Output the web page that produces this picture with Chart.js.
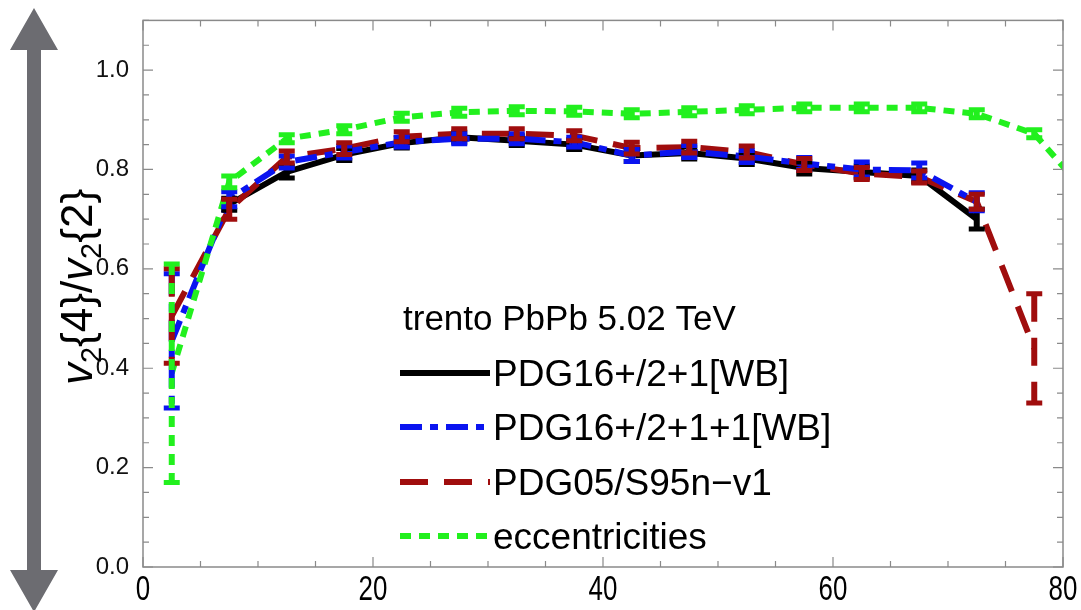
<!DOCTYPE html>
<html>
<head>
<meta charset="utf-8">
<script src="https://cdn.jsdelivr.net/npm/chart.js@4.4.1/dist/chart.umd.min.js"></script>
<style>
  html, body { margin: 0; padding: 0; background: #fff; }
  #wrap { width: 1081px; height: 610px; }
</style>
</head>
<body>
<div id="wrap"><canvas id="ratioChart" width="1081" height="610"></canvas></div>
<script>
// centrality bins (%)
const centrality = [2.5, 7.5, 12.5, 17.5, 22.5, 27.5, 32.5, 37.5, 42.5, 47.5, 52.5, 57.5, 62.5, 67.5, 72.5, 77.5, 82.5];

// v2{4}/v2{2} per centrality bin
const pdg16 = [null, 0.73, 0.795, 0.83, 0.853, 0.865, 0.858, 0.85, 0.828, 0.833, 0.822, 0.803, 0.795, 0.787, 0.70, null, null];
const pdg16b = [0.455, 0.74, 0.815, 0.835, 0.855, 0.862, 0.862, 0.855, 0.828, 0.836, 0.826, 0.812, 0.80, 0.798, 0.735, null, null];
const pdg05 = [0.505, 0.72, 0.825, 0.842, 0.866, 0.872, 0.872, 0.868, 0.843, 0.845, 0.835, 0.81, 0.792, 0.785, 0.735, 0.44, null];
const ecc = [0.39, 0.775, 0.862, 0.88, 0.905, 0.915, 0.918, 0.917, 0.912, 0.916, 0.92, 0.924, 0.924, 0.924, 0.912, 0.872, 0.74];

// error bar half widths
const pdg16Err = [0, 0.012, 0.012, 0.012, 0.01, 0.01, 0.01, 0.01, 0.012, 0.012, 0.012, 0.012, 0.012, 0.012, 0.02, 0, 0];
const pdg16bErr = [0.135, 0.015, 0.012, 0.012, 0.01, 0.01, 0.01, 0.01, 0.012, 0.012, 0.012, 0.012, 0.015, 0.015, 0.018, 0, 0];
const pdg05Err = [0.095, 0.02, 0.012, 0.012, 0.01, 0.01, 0.01, 0.01, 0.012, 0.012, 0.012, 0.012, 0.012, 0.012, 0.015, 0.11, 0];
const eccErr = [0.22, 0.012, 0.008, 0.008, 0.008, 0.008, 0.008, 0.008, 0.008, 0.008, 0.008, 0.008, 0.008, 0.008, 0.008, 0.008, 0];

const xTicks = [0, 20, 40, 60, 80];
const yTicks = [0, 0.2, 0.4, 0.6, 0.8, 1.0];

const legendTitle = 'trento PbPb 5.02 TeV';

function pts(vals) {
  return centrality.map((c, i) => ({ x: c, y: vals[i] }));
}

const series = [
  { label: 'PDG16+/2+1[WB]', vals: pdg16, err: pdg16Err, color: '#000000', dash: [], order: 3 },
  { label: 'PDG16+/2+1+1[WB]', vals: pdg16b, err: pdg16bErr, color: '#0a14f0', dash: [22, 8, 8, 8], order: 1 },
  { label: 'PDG05/S95n\u2212v1', vals: pdg05, err: pdg05Err, color: '#a00d0d', dash: [28, 16], order: 2 },
  { label: 'eccentricities', vals: ecc, err: eccErr, color: '#22f01e', dash: [11, 8], order: 0 }
];

// error bars, frame, ticks, legend, axis title, arrow
const decor = {
  id: 'decor',
  afterDatasetsDraw(chart) {
    const ctx = chart.ctx;
    const xs = chart.scales.x, ys = chart.scales.y;
    const a = chart.chartArea;
    ctx.save();
    ctx.beginPath();
    ctx.rect(a.left, a.top, a.right - a.left, a.bottom - a.top);
    ctx.clip();
    series.forEach(s => {
      ctx.strokeStyle = s.color;
      s.vals.forEach((v, i) => {
        if (v === null || !s.err[i]) return;
        const x = xs.getPixelForValue(centrality[i]);
        const y1 = ys.getPixelForValue(v - s.err[i]);
        const y2 = ys.getPixelForValue(v + s.err[i]);
        ctx.lineWidth = 6;
        ctx.setLineDash(s.dash);
        ctx.beginPath();
        ctx.moveTo(x, y2); ctx.lineTo(x, y1);
        ctx.stroke();
        ctx.setLineDash([]);
        ctx.lineWidth = 5;
        ctx.beginPath();
        ctx.moveTo(x - 8, y1); ctx.lineTo(x + 8, y1);
        ctx.moveTo(x - 8, y2); ctx.lineTo(x + 8, y2);
        ctx.stroke();
      });
    });
    ctx.restore();
  },
  afterDraw(chart) {
    const ctx = chart.ctx;
    const xs = chart.scales.x, ys = chart.scales.y;
    const a = chart.chartArea;
    ctx.save();

    // frame
    ctx.strokeStyle = '#8a8a8a';
    ctx.lineWidth = 1.5;
    ctx.strokeRect(a.left, a.top, a.right - a.left, a.bottom - a.top);
    ctx.lineWidth = 1.2;
    ctx.beginPath();
    for (let v = 0; v <= 1.1001; v += 0.05) {
      const y = ys.getPixelForValue(v);
      const major = Math.abs(v * 5 - Math.round(v * 5)) < 1e-6;
      const len = major ? 10 : 6;
      ctx.moveTo(a.left, y); ctx.lineTo(a.left + len, y);
      ctx.moveTo(a.right, y); ctx.lineTo(a.right - len, y);
    }
    for (let v = 0; v <= 80; v += 5) {
      const x = xs.getPixelForValue(v);
      const len = v % 20 === 0 ? 10 : 6;
      ctx.moveTo(x, a.bottom); ctx.lineTo(x, a.bottom - len);
      ctx.moveTo(x, a.top); ctx.lineTo(x, a.top + len);
    }
    ctx.stroke();

    // x tick labels (narrow font look)
    ctx.fillStyle = '#000';
    ctx.textAlign = 'center';
    ctx.textBaseline = 'middle';
    ctx.font = '35px "Liberation Sans", Arial, sans-serif';
    xTicks.forEach(v => {
      const x = xs.getPixelForValue(v);
      ctx.save();
      ctx.translate(x, 590);
      ctx.scale(0.74, 1);
      ctx.fillText(String(v), 0, 0);
      ctx.restore();
    });
    ctx.textAlign = 'left';

    // legend
    const lx = 400, lw = 90;
    ctx.font = '35px "Liberation Sans", Arial, sans-serif';
    ctx.fillText(legendTitle, 403, 320);
    const rows = [373, 427, 482, 536];
    ctx.font = '37px "Liberation Sans", Arial, sans-serif';
    series.forEach((s, i) => {
      ctx.strokeStyle = s.color;
      ctx.lineWidth = 6;
      ctx.setLineDash(s.dash);
      ctx.beginPath();
      ctx.moveTo(lx, rows[i]); ctx.lineTo(lx + lw, rows[i]);
      ctx.stroke();
      ctx.setLineDash([]);
      ctx.fillText(s.label, 493, rows[i] + 3);
    });

    // y axis title v2{4}/v2{2}
    ctx.save();
    ctx.translate(92, 287);
    ctx.rotate(-Math.PI / 2);
    const big = '44px "Liberation Sans", Arial, sans-serif';
    const ital = 'italic 44px "Liberation Sans", Arial, sans-serif';
    const small = '29px "Liberation Sans", Arial, sans-serif';
    const parts = [
      { t: 'v', f: ital, dy: 0 }, { t: '2', f: small, dy: 9 }, { t: '{4}/', f: big, dy: 0 },
      { t: 'v', f: ital, dy: 0 }, { t: '2', f: small, dy: 9 }, { t: '{2}', f: big, dy: 0 }
    ];
    let total = 0;
    parts.forEach(p => { ctx.font = p.f; p.w = ctx.measureText(p.t).width; total += p.w; });
    let px = -total / 2;
    ctx.textBaseline = 'alphabetic';
    parts.forEach(p => { ctx.font = p.f; ctx.fillText(p.t, px, p.dy); px += p.w; });
    ctx.restore();

    // double headed arrow on the left
    ctx.fillStyle = '#6c6c71';
    const cx = 34, hw = 24, sw = 7, top = 8, bot = 612, head = 42;
    ctx.beginPath();
    ctx.moveTo(cx, top);
    ctx.lineTo(cx + hw, top + head);
    ctx.lineTo(cx + sw, top + head);
    ctx.lineTo(cx + sw, bot - head);
    ctx.lineTo(cx + hw, bot - head);
    ctx.lineTo(cx, bot);
    ctx.lineTo(cx - hw, bot - head);
    ctx.lineTo(cx - sw, bot - head);
    ctx.lineTo(cx - sw, top + head);
    ctx.lineTo(cx - hw, top + head);
    ctx.closePath();
    ctx.fill();

    ctx.restore();
  }
};

new Chart(document.getElementById('ratioChart'), {
  type: 'line',
  data: {
    datasets: series.map(s => ({
      label: s.label,
      data: pts(s.vals),
      borderColor: s.color,
      backgroundColor: s.color,
      borderWidth: 6,
      borderDash: s.dash,
      pointRadius: 0,
      tension: 0,
      order: s.order
    }))
  },
  options: {
    responsive: false,
    animation: false,
    layout: { padding: { left: 0, right: 18, top: 18, bottom: 0 } },
    scales: {
      x: {
        type: 'linear',
        min: 0,
        max: 80,
        grid: { display: false },
        border: { display: false },
        afterBuildTicks: (scale) => { scale.ticks = xTicks.map(v => ({ value: v })); },
        afterFit: (scale) => { scale.height = 43; },
        ticks: { display: false }
      },
      y: {
        min: 0,
        max: 1.1,
        grid: { display: false },
        border: { display: false },
        afterBuildTicks: (scale) => { scale.ticks = yTicks.map(v => ({ value: v })); },
        afterFit: (scale) => { scale.width = 143; },
        ticks: {
          color: '#111',
          padding: 6,
          callback: (v) => v.toFixed(1),
          font: { family: '"Liberation Sans", Arial, sans-serif', size: 24 }
        }
      }
    },
    plugins: {
      legend: { display: false },
      tooltip: { enabled: false }
    }
  },
  plugins: [decor]
});
</script>
</body>
</html>
